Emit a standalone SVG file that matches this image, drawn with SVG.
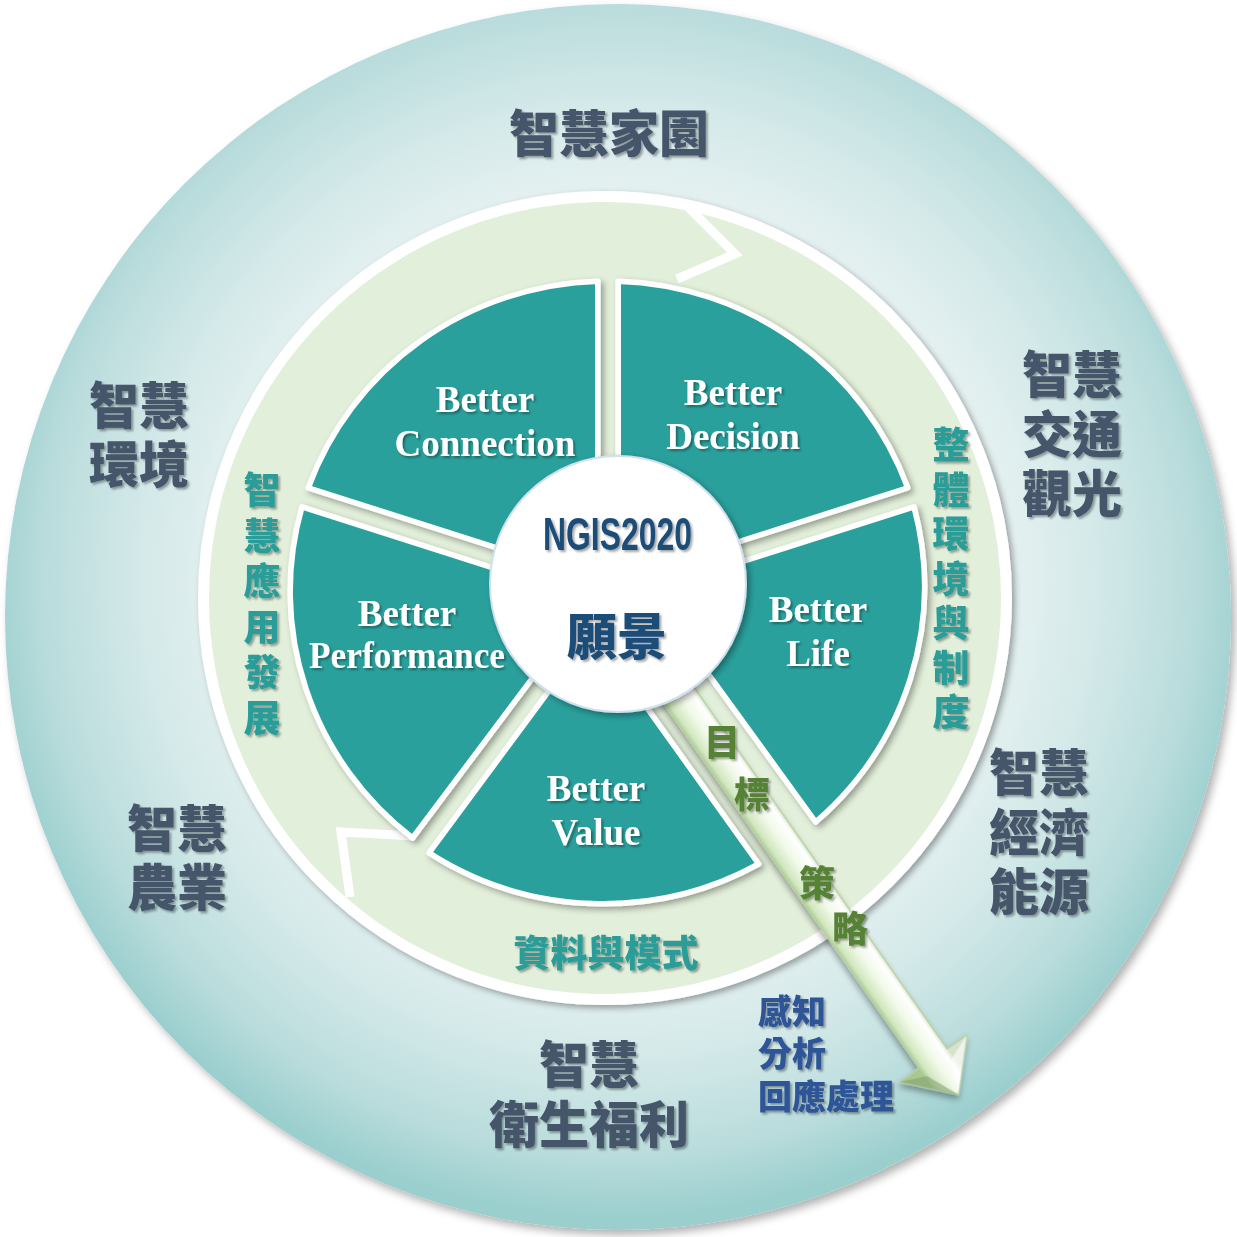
<svg xmlns="http://www.w3.org/2000/svg" width="1237" height="1237" viewBox="0 0 1237 1237">
<defs>
<radialGradient id="bg" cx="50%" cy="47%" r="52%">
<stop offset="0" stop-color="#ffffff"/>
<stop offset="0.6" stop-color="#e6f1f1"/>
<stop offset="0.75" stop-color="#d4e9e9"/>
<stop offset="0.9" stop-color="#badcdc"/>
<stop offset="1" stop-color="#9acfce"/>
</radialGradient>
<linearGradient id="arrowGrad" gradientUnits="userSpaceOnUse" x1="0" y1="-18" x2="0" y2="18">
<stop offset="0" stop-color="#d6e2cc"/>
<stop offset="0.15" stop-color="#ffffff"/>
<stop offset="0.5" stop-color="#f1f9e9"/>
<stop offset="0.85" stop-color="#d2e7bf"/>
<stop offset="1" stop-color="#a9c890"/>
</linearGradient>
<filter id="sh" x="-10%" y="-10%" width="130%" height="130%">
<feDropShadow dx="3" dy="3" stdDeviation="3" flood-color="#000" flood-opacity="0.35"/>
</filter>
<filter id="bigsh" x="-5%" y="-5%" width="115%" height="115%">
<feDropShadow dx="4" dy="5" stdDeviation="4" flood-color="#000" flood-opacity="0.3"/>
</filter>
<filter id="tsh" x="-10%" y="-10%" width="130%" height="140%">
<feDropShadow dx="2" dy="2" stdDeviation="1.2" flood-color="#000" flood-opacity="0.35"/>
</filter>
<style>
.seg{fill:#2ca09c;stroke:#fff;stroke-width:5.5;stroke-linejoin:round;filter:url(#sh)}
.en{font-family:'Liberation Serif',serif;font-weight:bold;font-size:37px;fill:#fff;text-anchor:middle;filter:url(#tsh)}
.zh{font-family:'Noto Sans CJK TC',sans-serif;font-weight:900;text-anchor:middle;dominant-baseline:central;filter:url(#tsh)}
.outer{font-family:'Liberation Sans','Noto Sans CJK TC',sans-serif;font-size:50px;fill:#44546a}
.band{font-size:37px;fill:#2a9d98}
.vert{writing-mode:vertical-rl;text-anchor:start;text-orientation:upright}
.green{font-size:36px;fill:#548235}
.blue{font-family:'Liberation Sans','Noto Sans CJK TC',sans-serif;font-size:34px;fill:#2f5597;text-anchor:start}
.notch{fill:none;stroke:#fff;stroke-width:9;stroke-linejoin:miter}
</style>
</defs>

<g id="outer-circle">
<circle cx="618" cy="617" r="613" fill="url(#bg)" filter="url(#bigsh)"/>
</g>

<g id="ring">
<circle cx="605" cy="598" r="401.5" fill="#e2efda" stroke="#fff" stroke-width="11" filter="url(#sh)"/>
<polyline class="notch" points="688,207 735,254 677,279"/>
<polyline class="notch" points="415,836 341,832 350,897"/>
</g>

<g id="seg-connection">
<path class="seg" transform="translate(608,0) scale(1.018,1) translate(-608,0)" d="M598,580.2 L313.6,487.8 A313,313 0 0 1 598,281.2 Z"/>
<text class="en" x="485" y="412">Better</text>
<text class="en" x="485" y="456">Connection</text>
</g>
<g id="seg-decision">
<path class="seg" transform="translate(608,0) scale(1.018,1) translate(-608,0)" d="M618,580.2 L618,281.2 A313,313 0 0 1 902.4,487.8 Z"/>
<text class="en" x="733" y="405">Better</text>
<text class="en" x="733" y="449">Decision</text>
</g>
<g id="seg-life">
<path class="seg" transform="translate(608,0) scale(1.018,1) translate(-608,0)" d="M647.8,591.6 L908.6,506.8 A313,313 0 0 1 812,822 Z"/>
<text class="en" x="818" y="622">Better</text>
<text class="en" x="818" y="666">Life</text>
</g>
<g id="seg-value">
<path class="seg" transform="translate(608,0) scale(1.018,1) translate(-608,0)" d="M592.9,631.8 L756,864 A313,313 0 0 1 432.2,852.9 Z"/>
<text class="en" x="596" y="801">Better</text>
<text class="en" x="596" y="845">Value</text>
</g>
<g id="seg-performance">
<path class="seg" transform="translate(608,0) scale(1.018,1) translate(-608,0)" d="M591.8,599.3 L416,838 A313,313 0 0 1 307.4,506.8 Z"/>
<text class="en" x="407" y="626">Better</text>
<text class="en" x="407" y="668" textLength="196" lengthAdjust="spacingAndGlyphs">Performance</text>
</g>

<g id="connectors">
<g transform="translate(608,594) rotate(55)" filter="url(#sh)">
<polygon points="100,-17 567,-17 567,-41 611,0 567,41 567,17 100,17" fill="url(#arrowGrad)" stroke="#b5cfa0" stroke-width="1.5" stroke-linejoin="miter"/>
<polygon points="567,41 611,0 578,15" fill="#7f9f6c" opacity="0.55"/>
<polygon points="567,-41 611,0 578,-15" fill="#ffffff" opacity="0.6"/>
</g>
</g>

<g id="center">
<circle cx="618" cy="584" r="128" fill="#fff" stroke="#cfe0f0" stroke-width="2" filter="url(#sh)"/>
<text x="617.5" y="550" font-family="'Liberation Sans',sans-serif" font-weight="bold" font-size="47" fill="#1f4e79" text-anchor="middle" textLength="149" lengthAdjust="spacingAndGlyphs" filter="url(#tsh)">NGIS2020</text>
<text class="zh" x="617" y="633" font-size="50" fill="#1f4e79">願景</text>
</g>

<g id="label-home"><text class="zh outer" x="609" y="135">智慧家園</text></g>
<g id="label-env"><text class="zh outer"><tspan x="139" y="407">智慧</tspan><tspan x="139" y="466">環境</tspan></text></g>
<g id="label-traffic"><text class="zh outer"><tspan x="1072" y="376">智慧</tspan><tspan x="1072" y="436">交通</tspan><tspan x="1072" y="495">觀光</tspan></text></g>
<g id="label-economy"><text class="zh outer"><tspan x="1039" y="774">智慧</tspan><tspan x="1039" y="834">經濟</tspan><tspan x="1039" y="893">能源</tspan></text></g>
<g id="label-agri"><text class="zh outer"><tspan x="177" y="830">智慧</tspan><tspan x="177" y="889">農業</tspan></text></g>
<g id="label-health"><text class="zh outer"><tspan x="589" y="1066">智慧</tspan><tspan x="589" y="1126">衛生福利</tspan></text></g>

<g id="band-app">
<text class="zh band vert" x="262" y="471.5" letter-spacing="8.6">智慧應用發展</text>
</g>
<g id="band-env">
<text class="zh band vert" x="951" y="426.5" letter-spacing="7.5">整體環境與制度</text>
</g>
<g id="band-data"><text class="zh band" x="606" y="951">資料與模式</text></g>

<g id="arrow-labels">
<text class="zh green"><tspan x="722" y="740">目</tspan><tspan x="752" y="792">標</tspan></text>
<text class="zh green"><tspan x="817" y="881">策</tspan><tspan x="850" y="926">略</tspan></text>
</g>
<g id="label-process">
<text class="zh blue"><tspan x="758" y="1012">感知</tspan><tspan x="758" y="1054">分析</tspan><tspan x="758" y="1097">回應處理</tspan></text>
</g>
</svg>
